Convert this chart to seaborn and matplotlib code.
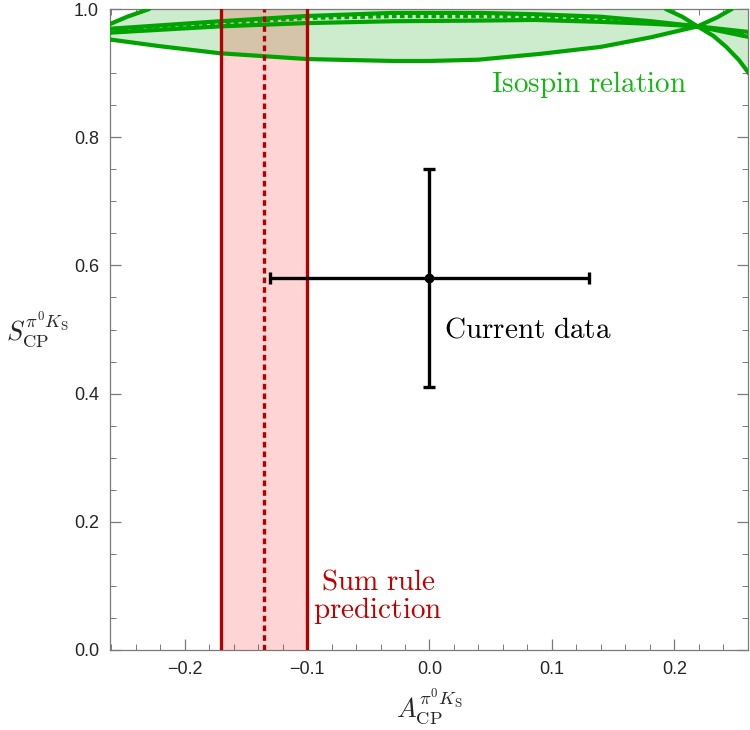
import numpy as np
import matplotlib
matplotlib.use("Agg")
import matplotlib.pyplot as plt
import seaborn as sns

# current measurement
A_data = 0.0
S_data = 0.58
A_err = 0.13
S_err = 0.17

# sum rule prediction band
sum_lo = -0.17
sum_hi = -0.10
sum_mid = -0.135

# isospin relation curves
# lower ellipse arc, runs through the crossing and up out of the frame
lowA = [-0.263, -0.22, -0.171, -0.10, -0.03, 0.0, 0.04, 0.09, 0.14, 0.181, 0.219, 0.235, 0.247]
lowS = [0.953, 0.942, 0.931, 0.922, 0.919, 0.919, 0.921, 0.930, 0.941, 0.956, 0.973, 0.987, 1.0]
# descending arc on the right
descA = [0.193, 0.2065, 0.219, 0.232, 0.2424, 0.253, 0.262]
descS = [1.0, 0.988, 0.973, 0.958, 0.941, 0.920, 0.897]
# small arc in the top left corner
cornA = [-0.263, -0.247, -0.229]
cornS = [0.975, 0.988, 1.0]
# band lines near the top (upper, central dashed, lower)
bandA = [-0.263, -0.171, -0.102, -0.03, 0.04, 0.086, 0.140, 0.181, 0.219, 0.262]
upS = [0.969, 0.981, 0.989, 0.994, 0.994, 0.992, 0.988, 0.981, 0.973, 0.964]
midS = [0.963, 0.978, 0.986, 0.989, 0.989, 0.989, 0.984, 0.979, 0.973, 0.959]
dnS = [0.963, 0.973, 0.978, 0.981, 0.982, 0.983, 0.980, 0.977, 0.973, 0.956]

xticks = [-0.2, -0.1, 0.0, 0.1, 0.2]
yticks = [0.0, 0.2, 0.4, 0.6, 0.8, 1.0]

green = "#00a300"
green_fill = "#cdeccd"
red_line = "#b30000"
red_text = "#c00000"

sns.set_style("ticks")
plt.rcParams["font.family"] = ["Liberation Sans", "DejaVu Sans"]
plt.rcParams["mathtext.fontset"] = "cm"

fig = plt.figure(figsize=(7.5, 7.3), dpi=100)
ax = fig.add_axes([0.1467, 0.1096, 0.8503, 0.878])

# green filled regions (left lens and right wedge)
i_cross = lowA.index(0.219)
j_cross = descA.index(0.219)
fillA = lowA[:i_cross + 1] + descA[:j_cross][::-1] + cornA[::-1]
fillS = lowS[:i_cross + 1] + descS[:j_cross][::-1] + cornS[::-1]
ax.fill(fillA, fillS, color=green_fill, lw=0, zorder=1)
fillA2 = lowA[i_cross:] + [0.262, 0.262] + descA[j_cross:][::-1]
fillS2 = lowS[i_cross:] + [1.0, descS[-1]] + descS[j_cross:][::-1]
ax.fill(fillA2, fillS2, color=green_fill, lw=0, zorder=1)

# sum rule band
ax.axvspan(sum_lo, sum_hi, color="#ff0000", alpha=0.17, lw=0, zorder=2)

# green lines
for xs, ys in [(lowA, lowS), (descA, descS), (cornA, cornS), (bandA, upS), (bandA, dnS)]:
    sns.lineplot(x=xs, y=ys, sort=False, estimator=None, color=green, lw=3.0, ax=ax, zorder=3)
ax.plot(bandA, midS, color=green, lw=3.0, dashes=(1.1, 0.8), zorder=3)

ax.axvline(sum_lo, color=red_line, lw=2.4, zorder=4)
ax.axvline(sum_hi, color=red_line, lw=2.4, zorder=4)
ax.axvline(sum_mid, color=red_line, lw=2.4, dashes=(1.7, 1.2), zorder=4)

ax.errorbar([A_data], [S_data], xerr=[A_err], yerr=[S_err], fmt="o", color="black",
            ms=6, lw=2.4, capsize=4.5, capthick=2.4, zorder=5)

ax.text(0.13, 0.883, r"$\mathrm{Isospin\ relation}$", color="#11b811", fontsize=21,
        ha="center", va="center")
ax.text(0.012, 0.50, r"$\mathrm{Current\ data}$", color="black", fontsize=21,
        ha="left", va="center")
ax.text(-0.042, 0.083, "$\\mathrm{Sum\\ rule}$\n$\\mathrm{prediction}$", color=red_text,
        fontsize=21, ha="center", va="center", linespacing=0.95)

ax.set_xlim(-0.261, 0.259)
ax.set_ylim(0.0, 1.0)
ax.set_xticks(xticks)
ax.set_yticks(yticks)
ax.set_xticklabels([f"{t:.1f}".replace("-", "\u2212") for t in xticks])
ax.set_yticklabels([f"{t:.1f}" for t in yticks])
ax.set_xticks(np.arange(-0.26, 0.27, 0.02), minor=True)
ax.set_yticks(np.arange(0.0, 1.01, 0.05), minor=True)
ax.tick_params(which="both", direction="in", top=True, right=True, color="#7a7a7a",
               labelsize=13, pad=8)
ax.tick_params(which="major", length=8, width=0.9)
ax.tick_params(which="minor", length=4, width=0.7)
for s in ax.spines.values():
    s.set_color("#7a7a7a")
    s.set_linewidth(0.9)

ax.set_xlabel(r"$A_{\rm CP}^{\pi^0 K_{\rm S}}$", fontsize=19, labelpad=6)
ax.set_ylabel(r"$S_{\rm CP}^{\pi^0 K_{\rm S}}$", fontsize=19, rotation=0, labelpad=26,
              va="center")

fig.savefig("out.png", dpi=100)
